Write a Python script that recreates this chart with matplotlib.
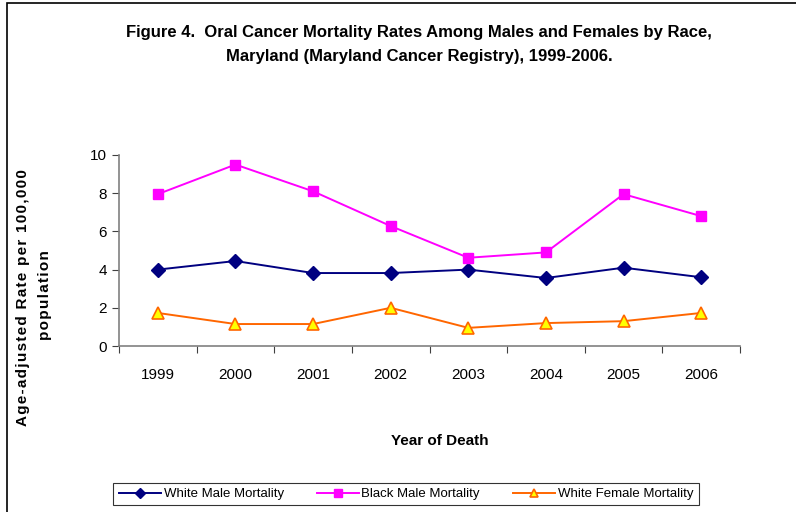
import numpy as np
import matplotlib.pyplot as plt
from matplotlib.patches import Rectangle

# dados
anos = ['1999', '2000', '2001', '2002', '2003', '2004', '2005', '2006']
branco_masc = [4.0, 4.45, 3.82, 3.82, 4.0, 3.56, 4.1, 3.6]
negro_masc = [7.95, 9.5, 8.1, 6.28, 4.62, 4.9, 7.95, 6.8]
branca_fem = [1.73, 1.15, 1.15, 2.0, 0.95, 1.2, 1.3, 1.73]

plt.rcParams['font.family'] = ['Liberation Sans', 'DejaVu Sans']

fig = plt.figure(figsize=(7.96, 5.12), dpi=100)
ax = fig.add_axes([119 / 796, 1 - 346 / 512, 621 / 796, 191 / 512])

# moldura externa
fig.patches.append(Rectangle((7 / 796, -0.1), 1.2, (512 - 3) / 512 + 0.1,
                             transform=fig.transFigure, fill=False,
                             edgecolor='black', linewidth=1.2))

x = np.arange(len(anos))
ax.plot(x, branco_masc, color='#000080', marker='D', markersize=7, lw=1.4,
        label='White Male Mortality')
ax.plot(x, negro_masc, color='#FF00FF', marker='s', markersize=7, lw=1.4,
        label='Black Male Mortality')
ax.plot(x, branca_fem, color='#FF6600', marker='^', markersize=8, lw=1.4,
        markerfacecolor='#FFFF00', markeredgecolor='#FF6600', markeredgewidth=1.2,
        label='White Female Mortality')

ax.set_xlim(-0.5, len(anos) - 0.5)
ax.set_ylim(0, 10)
ax.set_yticks(range(0, 11, 2))
ax.set_xticks(np.arange(-0.5, len(anos), 1))
ax.set_xticklabels([])
ax.set_xticks(x, minor=True)
ax.set_xticklabels(anos, minor=True)
ax.tick_params(axis='x', which='minor', length=0, pad=16, labelsize=11)
ax.tick_params(axis='x', which='major', length=5, direction='out', color='#404040')
ax.tick_params(axis='y', length=5, direction='out', labelsize=11, color='#404040')

for s in ['top', 'right']:
    ax.spines[s].set_visible(False)
for s in ['left', 'bottom']:
    ax.spines[s].set_color('#808080')
    ax.spines[s].set_linewidth(1.2)

fig.text(419 / 796, 1 - 32 / 512,
         'Figure 4.  Oral Cancer Mortality Rates Among Males and Females by Race,',
         ha='center', va='center', fontsize=12, fontweight='bold')
fig.text(419 / 796, 1 - 57 / 512,
         'Maryland (Maryland Cancer Registry), 1999-2006.',
         ha='center', va='center', fontsize=12, fontweight='bold')

# rótulo do eixo y com espaçamento entre letras
espaco = '\u200a'
linha1 = espaco.join('Age-adjusted Rate per 100,000')
linha2 = espaco.join('population')
fig.text(23 / 796, 1 - 298 / 512, linha1,
         rotation=90, ha='center', va='center', fontsize=11, fontweight='bold')
fig.text(45 / 796, 1 - 295 / 512, linha2,
         rotation=90, ha='center', va='center', fontsize=11, fontweight='bold')
fig.text(440 / 796, 1 - 441 / 512, 'Year of Death', ha='center', va='center',
         fontsize=11, fontweight='bold')

leg = fig.legend(loc='center', bbox_to_anchor=(406 / 796, 1 - 494 / 512), ncol=3,
                 frameon=True, fancybox=False, edgecolor='black',
                 prop={'size': 9.5}, handlelength=3.2, markerscale=0.8,
                 columnspacing=2.5, borderpad=0.4, handletextpad=0.2)
leg.get_frame().set_linewidth(0.8)

fig.savefig('out.png', dpi=100)
